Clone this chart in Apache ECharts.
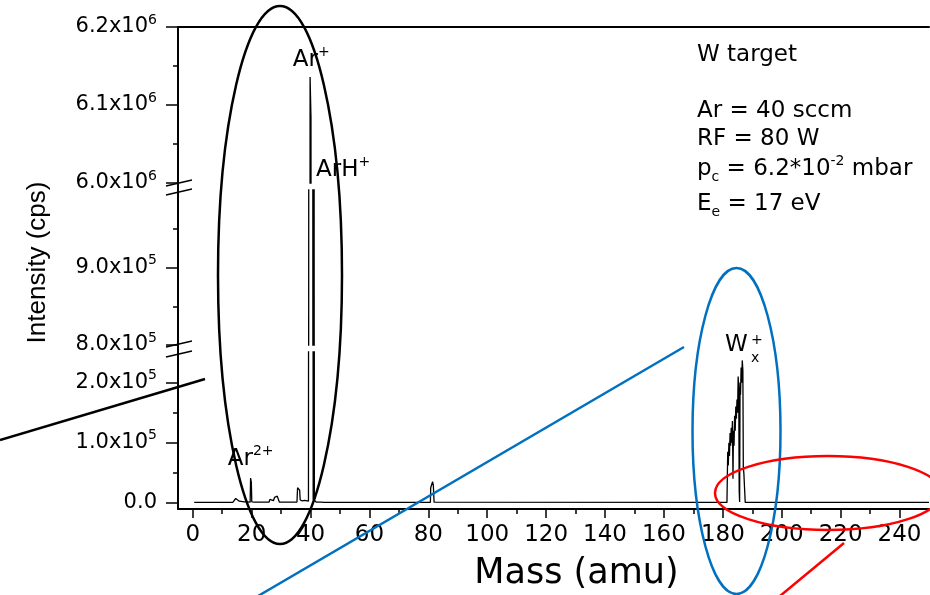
<!DOCTYPE html>
<html>
<head>
<meta charset="utf-8">
<title>Mass spectrum - W target</title>
<script src="https://cdn.jsdelivr.net/npm/echarts@6/dist/echarts.min.js"></script>
<style>
  html, body { margin: 0; padding: 0; background: #fff; }
  #chart { width: 930px; height: 595px; }
</style>
</head>
<body>
<div id="chart"></div>
<script>
// trace: [mass (amu), intensity (cps)]
var lowMassPeaks = [
    [0.5, 500], [1.8, 500], [2.0, 1800], [2.3, 600], [13.6, 600], [14.0, 3500], [14.6, 7000],
    [15.2, 4500], [15.8, 2500], [16.2, 800], [17.5, 1200], [18.4, 1500], [19.0, 800],
    [19.5, 900], [19.65, 41000], [19.9, 34000], [20.05, 1500], [21.0, 800],
    [25.9, 800], [26.2, 5500], [26.8, 4500], [27.4, 3300], [27.8, 9000], [28.3, 7000],
    [28.7, 11000], [29.2, 8500], [29.4, 1200], [30.0, 800],
    [35.4, 1000], [35.6, 25000], [36.0, 24500], [36.3, 21000], [36.5, 4500],
    [37.2, 3000], [38.0, 4000], [38.6, 2500]
];
var argonPeaks = [
    [39.3, 2500], [39.85, 6136000], [40.15, 6085000], [40.9, 5000],
    [41.0, 2200000], [41.08, 916000], [41.15, 2000000], [41.3, 4000],
    [42.0, 800], [43.8, 800], [44.1, 2000], [44.5, 600]
];
var midMassPeaks = [
    [55.4, 500], [55.7, 1800], [56.1, 500],
    [80.7, 600], [80.8, 25000], [81.3, 27000], [81.45, 35000], [81.7, 29000], [81.95, 800]
];
var tungstenPeaks = [
    [181.4, 500], [181.65, 85000], [181.85, 62000], [182.05, 100000], [182.25, 78000],
    [182.45, 116000], [182.65, 95000], [182.85, 125000], [183.05, 100000], [183.25, 136000],
    [183.45, 40000], [183.6, 120000], [183.8, 95000], [184.0, 145000], [184.2, 120000],
    [184.4, 160000], [184.6, 140000], [184.8, 172000], [185.0, 150000], [185.2, 210000],
    [185.4, 190000], [185.55, 20000], [185.7, 1000], [185.85, 200000], [186.0, 180000],
    [186.2, 225000], [186.4, 200000], [186.6, 237000], [186.8, 220000], [186.95, 60000],
    [187.15, 48000], [187.4, 21000], [187.6, 500]
];
var highMassTail = [
    [197.0, 500], [197.2, 1500], [197.4, 500], [200.4, 500], [200.6, 2000], [200.8, 500], [250, 500]
];

// broken intensity axis, one panel per segment
var topRange = [6.0e6, 6.2e6];
var topTicks = [6.0e6, 6.1e6, 6.2e6];
var topMinorTicks = [6.05e6, 6.15e6];
var midRange = [8.0e5, 1.0e6];
var midTicks = [8.0e5, 9.0e5];
var midMinorTicks = [8.5e5, 9.5e5];
var lowRange = [-10500, 251000];
var lowTicks = [0, 1.0e5, 2.0e5];
var lowMinorTicks = [0.5e5, 1.5e5];

var massRange = [-5, 250];
var massTicks = [0, 20, 40, 60, 80, 100, 120, 140, 160, 180, 200, 220, 240];
var massMinorTicks = [10, 30, 50, 70, 90, 110, 130, 150, 170, 190, 210, 230];

var conditions = [
    '{t|W target}',
    '{t|Ar = 40 sccm}',
    '{t|RF = 80 W}',
    '{t|p}{sub|c}{t| = 6.2*10}{sup|-2}{t| mbar}',
    '{t|E}{sub|e}{t| = 17 eV}'
];

var spectrum = lowMassPeaks.concat(argonPeaks, midMassPeaks, tungstenPeaks, highMassTail);

var FONT = 'DejaVu Sans';
var black = '#000';

function sciLabel(v) {
    if (v === 0) return '{m|0.0}';
    var e = Math.floor(Math.log10(v) + 1e-9);
    var m = (v / Math.pow(10, e)).toFixed(1);
    return '{m|' + m + 'x10}{s|' + e + '}';
}

var labelRich = {
    m: { fontFamily: FONT, fontSize: 21, color: black, lineHeight: 28 },
    s: { fontFamily: FONT, fontSize: 14, color: black, lineHeight: 17, verticalAlign: 'top' }
};

function yAxes(gridIndex, range, ticks, minorTicks, extra) {
    var major = Object.assign({
        type: 'value', gridIndex: gridIndex, min: range[0], max: range[1], position: 'left',
        axisLine: { show: true, onZero: false, lineStyle: { color: black, width: 2 } },
        axisTick: { show: true, length: 12, customValues: ticks, lineStyle: { color: black, width: 1.5 } },
        axisLabel: { customValues: ticks, margin: 21, formatter: sciLabel, rich: labelRich },
        splitLine: { show: false }
    }, extra || {});
    var minor = {
        type: 'value', gridIndex: gridIndex, min: range[0], max: range[1], position: 'left',
        axisLine: { show: false, onZero: false },
        axisTick: { show: true, length: 5, customValues: minorTicks, lineStyle: { color: black, width: 1.5 } },
        axisLabel: { show: false },
        splitLine: { show: false }
    };
    return [major, minor];
}

function traceSeries(i) {
    return {
        type: 'line', xAxisIndex: i, yAxisIndex: i * 2,
        data: spectrum, showSymbol: false, symbol: 'none', clip: true, silent: true,
        lineStyle: { color: black, width: 1.3 }
    };
}

function txt(x, y, text, size) {
    return {
        type: 'text', x: x, y: y, z: 50,
        style: {
            text: text, fill: black, verticalAlign: 'middle', fontFamily: FONT, fontSize: size || 23,
            rich: {
                t: { fontFamily: FONT, fontSize: 23, lineHeight: 30, fill: black },
                sup: { fontFamily: FONT, fontSize: 14, lineHeight: 17, verticalAlign: 'top', fill: black },
                sub: { fontFamily: FONT, fontSize: 14, lineHeight: 10, verticalAlign: 'bottom', fill: black }
            }
        }
    };
}

function stroke(color) {
    return { fill: 'none', stroke: color, lineWidth: 2.5 };
}

var graphics = [
    // axis line through the breaks, and the break marks
    { type: 'line', shape: { x1: 178, y1: 27, x2: 178, y2: 509 }, style: { stroke: black, lineWidth: 2 } },
    { type: 'line', shape: { x1: 166, y1: 186, x2: 192, y2: 180 }, style: { stroke: black, lineWidth: 1.5 } },
    { type: 'line', shape: { x1: 166, y1: 195, x2: 192, y2: 189 }, style: { stroke: black, lineWidth: 1.5 } },
    { type: 'line', shape: { x1: 166, y1: 347, x2: 192, y2: 341 }, style: { stroke: black, lineWidth: 1.5 } },
    { type: 'line', shape: { x1: 166, y1: 357, x2: 192, y2: 351 }, style: { stroke: black, lineWidth: 1.5 } },

    // peak labels
    txt(292.7, 60, '{t|Ar}{sup|+}'),
    txt(316, 170, '{t|ArH}{sup|+}'),
    txt(227.7, 459, '{t|Ar}{sup|2+}'),
    txt(725, 345, '{t|W}'),
    txt(751, 340, '+', 14),
    txt(751, 358, 'x', 14),

    // overlay marks
    { type: 'ellipse', z: 60, shape: { cx: 280, cy: 275, rx: 62, ry: 269 }, style: stroke(black) },
    { type: 'line', z: 60, shape: { x1: 0, y1: 440, x2: 205, y2: 379 }, style: stroke(black) },
    { type: 'ellipse', z: 60, shape: { cx: 736.5, cy: 431, rx: 44, ry: 163 }, style: stroke('#0070c0') },
    { type: 'line', z: 60, shape: { x1: 258, y1: 596, x2: 684, y2: 347 }, style: stroke('#0070c0') },
    { type: 'ellipse', z: 60, shape: { cx: 828, cy: 493, rx: 113, ry: 37 }, style: stroke('#ff0000') },
    { type: 'line', z: 60, shape: { x1: 780, y1: 596, x2: 844, y2: 543 }, style: stroke('#ff0000') }
];

// experiment conditions block
var condY = [55, 111, 139, 169, 204];
conditions.forEach(function(c, i) {
    graphics.push(txt(697, condY[i], c));
});

var chart = echarts.init(document.getElementById('chart'), null, { renderer: 'canvas' });

var option = {
    backgroundColor: '#fff',
    animation: false,
    grid: [
        { left: 178, right: 1, top: 27, height: 156 },
        { left: 178, right: 1, top: 190, height: 155 },
        { left: 178, right: 1, top: 352, height: 157 }
    ],
    xAxis: [
        {
            type: 'value', gridIndex: 0, position: 'top', min: massRange[0], max: massRange[1],
            axisLine: { show: true, onZero: false, lineStyle: { color: black, width: 2 } },
            axisTick: { show: false }, axisLabel: { show: false }, splitLine: { show: false }
        },
        {
            type: 'value', gridIndex: 1, min: massRange[0], max: massRange[1], show: false,
            axisLine: { onZero: false }, splitLine: { show: false }
        },
        {
            type: 'value', gridIndex: 2, position: 'bottom', min: massRange[0], max: massRange[1],
            name: 'Mass (amu)', nameLocation: 'middle', nameGap: 47,
            nameTextStyle: { fontFamily: FONT, fontSize: 35, color: black, padding: [0, 0, 0, 46] },
            axisLine: { show: true, onZero: false, lineStyle: { color: black, width: 2 } },
            axisTick: { show: true, length: 9, customValues: massTicks, lineStyle: { color: black, width: 1.5 } },
            axisLabel: { customValues: massTicks, margin: 15, fontFamily: FONT, fontSize: 23, color: black },
            splitLine: { show: false }
        },
        {
            type: 'value', gridIndex: 2, position: 'bottom', min: massRange[0], max: massRange[1],
            axisLine: { show: false, onZero: false },
            axisTick: { show: true, length: 5, customValues: massMinorTicks, lineStyle: { color: black, width: 1.5 } },
            axisLabel: { show: false }, splitLine: { show: false }
        }
    ],
    yAxis: [].concat(
        yAxes(0, topRange, topTicks, topMinorTicks),
        yAxes(1, midRange, midTicks, midMinorTicks, {
            name: 'Intensity (cps)', nameLocation: 'middle', nameGap: 127, nameRotate: 90,
            nameTextStyle: { fontFamily: 'Liberation Sans', fontSize: 26, color: black, padding: [0, 0, 0, 10] }
        }),
        yAxes(2, lowRange, lowTicks, lowMinorTicks)
    ),
    series: [traceSeries(0), traceSeries(1), traceSeries(2)],
    graphic: graphics
};

chart.setOption(option);
</script>
</body>
</html>
